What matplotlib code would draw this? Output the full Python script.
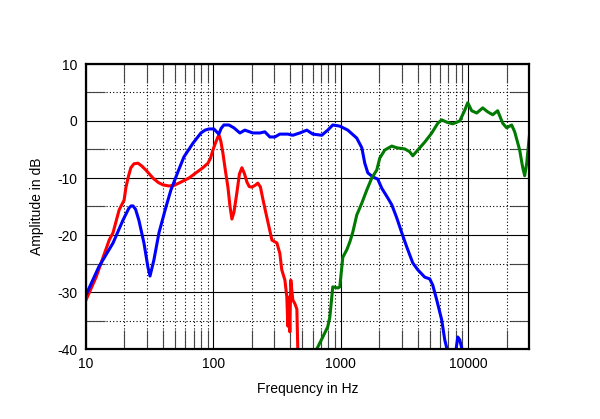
#!/usr/bin/env python3
"""Loudspeaker driver / port responses, log frequency axis."""

import matplotlib
matplotlib.use("Agg")
import matplotlib.pyplot as plt
from matplotlib.ticker import FixedLocator, NullFormatter

plt.rcParams["font.family"] = ["Liberation Sans", "DejaVu Sans"]
plt.rcParams["axes.unicode_minus"] = False

# ---------------------------------------------------------------------------
# Data (Hz, dB)
# ---------------------------------------------------------------------------

red_freq = [10, 12.0, 15.2, 16.3, 18.2, 19.9, 20.6, 21.6, 22.5, 23.8, 25.6, 27.4,
            29.5, 33.5, 37.0, 40.2, 44.8, 49.0, 53.6, 64.3, 72.9, 82.7, 90.6, 95.0,
            99.1, 104.0, 108.5, 110.8, 114.5, 118.7, 124.0, 130, 135.0, 139.7,
            145.0, 152.8, 160.0, 167.4, 175.0, 183.2, 191.0, 200.4, 212.0, 223.4,
            234.0, 244, 255.0, 267, 288, 315, 332, 344, 364, 377, 384, 391, 398,
            405, 420, 435, 452, 460]
red_db = [-31.4, -27.4, -20.9, -19.6, -15.6, -13.9, -11.6, -9.6, -8.2, -7.5, -7.4,
          -7.9, -8.6, -10.0, -10.8, -11.2, -11.4, -11.3, -10.9, -10.0, -9.1, -8.2,
          -7.4, -6.5, -5.1, -3.8, -2.8, -2.5, -3.6, -5.6, -8.6, -11.6, -15.0,
          -17.2, -16.0, -12.6, -9.3, -8.2, -9.2, -10.7, -11.5, -11.6, -11.3,
          -10.9, -11.6, -13.6, -15.6, -17.6, -20.9, -21.4, -23.2, -26.1, -27.9,
          -30.9, -36.0, -30.9, -37.0, -27.9, -31.4, -32.0, -33.0, -40.5]

blue_freq = [10, 12.6, 16.3, 19.5, 21.7, 22.6, 23.4, 24.5, 26.0, 28.5, 30.6, 31.8,
             34.1, 37.4, 42.4, 46.4, 52.7, 58.7, 69.1, 79.8, 86.0, 92.2, 100.9,
             110.4, 115.0, 120.8, 132.3, 144.8, 161.4, 176.6, 204, 231.5, 253.4,
             277.3, 303.5, 332, 384, 420, 476.8, 541, 603, 709, 790, 865, 982,
             1135, 1334, 1462, 1542, 1629, 1782, 1950, 2097, 2337, 2512, 2749,
             3008, 3294, 3672, 4018, 4560, 4990, 5270, 5662, 6194, 6546, 6780,
             7430, 7980, 8280, 8580, 8890, 9220]
blue_db = [-30.5, -25.6, -21.4, -17.4, -15.3, -14.9, -14.9, -15.5, -17.4, -21.4,
           -25.6, -27.2, -24.4, -19.6, -15.1, -12.1, -8.9, -6.3, -3.9, -2.1, -1.6,
           -1.4, -1.4, -2.3, -1.3, -0.7, -0.7, -1.2, -2.1, -1.6, -2.1, -2.1, -1.9,
           -2.8, -2.8, -2.3, -2.3, -2.5, -2.1, -1.6, -2.3, -2.5, -1.6, -0.7, -0.9,
           -1.6, -3.0, -4.7, -7.4, -9.1, -9.8, -10.2, -11.8, -13.5, -14.7, -17.0,
           -19.6, -22.1, -24.9, -26.1, -27.4, -27.7, -28.8, -31.4, -34.9, -38.4,
           -39.8, -42.0, -40.5, -37.9, -38.4, -39.8, -42.0]

green_freq = [648, 722, 790, 820, 865, 947, 982, 1037, 1114, 1178, 1242, 1334, 1462,
              1600, 1750, 1915, 2023, 2213, 2512, 2749, 3177, 3475, 3672, 4018,
              4560, 5176, 5768, 6194, 6780, 7550, 8580, 9397, 9910, 10650, 11660,
              13000, 14230, 15570, 17030, 18660, 20040, 21930, 23170, 25350, 26740,
              27750, 28780, 30370]
green_db = [-40.0, -37.9, -36.1, -34.4, -29.1, -29.3, -29.1, -23.9, -22.6, -21.2,
            -19.5, -16.5, -14.4, -12.1, -10.0, -8.6, -6.5, -5.1, -4.4, -4.7, -4.9,
            -5.4, -6.1, -5.1, -3.7, -2.1, -0.4, 0.2, -0.2, -0.5, 0.0, 1.9, 3.2, 1.8,
            1.4, 2.3, 1.6, 1.1, 1.8, -0.4, -1.2, -0.7, -1.9, -5.1, -8.1, -9.6, -7.4,
            -2.1]

x_ticks = [10, 100, 1000, 10000]
x_tick_labels = ["10", "100", "1000", "10000"]
y_ticks = [-40, -30, -20, -10, 0, 10]

# ---------------------------------------------------------------------------
# Plotting
# ---------------------------------------------------------------------------

fig = plt.figure(figsize=(6.0, 4.19), dpi=100)
ax = fig.add_axes([86 / 600, 70 / 419, 443 / 600, 285 / 419])

ax.plot(red_freq, red_db, color="#ff0000", lw=2.2)
ax.plot(blue_freq, blue_db, color="#0000ff", lw=2.2)
ax.plot(green_freq, green_db, color="#007a00", lw=2.2)

ax.set_xscale("log")
ax.set_xlim(10, 30000)
ax.set_ylim(-40, 10)

ax.xaxis.set_major_locator(FixedLocator(x_ticks))
ax.set_xticklabels(x_tick_labels)
minor_x = [m * d for d in (10, 100, 1000, 10000) for m in range(2, 10) if m * d < 30000]
ax.xaxis.set_minor_locator(FixedLocator(minor_x))
ax.xaxis.set_minor_formatter(NullFormatter())

ax.set_yticks(y_ticks)
ax.yaxis.set_minor_locator(FixedLocator([-35, -25, -15, -5, 5]))

ax.grid(which="major", color="black", lw=0.8, ls="-")
ax.grid(which="minor", color="black", lw=0.8, ls=(0, (1, 2)))

ax.tick_params(which="major", direction="in", length=0, labelsize=10, pad=6)
ax.tick_params(which="minor", direction="in", length=14, width=0.8,
               top=True, bottom=True, left=True, right=True, color="#444444")

for sp in ax.spines.values():
    sp.set_linewidth(1.6)

ax.set_xlabel("Frequency in Hz", fontsize=10, labelpad=8)
ax.set_ylabel("Amplitude in dB", fontsize=10, labelpad=10)

fig.savefig("out.png", dpi=100)
